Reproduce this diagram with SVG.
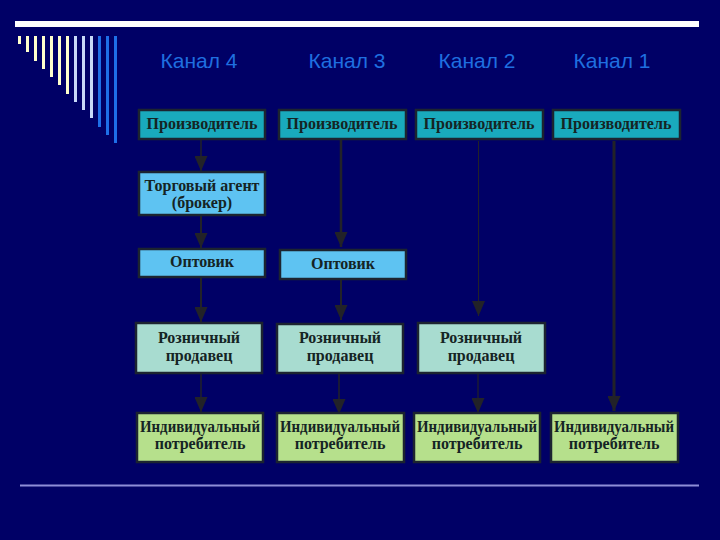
<svg xmlns="http://www.w3.org/2000/svg" width="720" height="540" viewBox="0 0 720 540">
<defs>
<marker id="ah" markerUnits="userSpaceOnUse" markerWidth="15" markerHeight="13" refX="15" refY="6.5" orient="auto" viewBox="0 0 15 13">
<path d="M0,0 L15,6.5 L0,13 z" fill="#222228"/>
</marker>
<style>
.bg{fill:#000066}
.box{stroke:#1c2430;stroke-width:2.5}
.p{fill:#19aabd}
.lb{fill:#5ec3f2}
.r{fill:#a8dcd0}
.g{fill:#b6e08c}
.t{font-family:"Liberation Serif","Times New Roman",serif;font-weight:bold;font-size:16px;fill:#152424;text-anchor:middle}
.ch{font-family:"Liberation Sans",Arial,sans-serif;font-size:21px;fill:#1f6fe0;text-anchor:middle}
.c{stroke:#222228;fill:none}
.cr{fill:#ffffcc}
.lt{fill:#c8d8f8}
.bl{fill:#1e6fe8}
</style>
</defs>
<rect class="bg" x="0" y="0" width="720" height="540"/>
<g id="decor">
<rect x="15" y="21" width="684" height="6" fill="#ffffff"/>
<rect class="cr" x="18" y="36" width="3" height="8"/>
<rect class="cr" x="26" y="36" width="3" height="16"/>
<rect class="cr" x="34" y="36" width="3" height="25"/>
<rect class="cr" x="42" y="36" width="3" height="33"/>
<rect class="cr" x="50" y="36" width="3" height="41"/>
<rect class="cr" x="58" y="36" width="3" height="49"/>
<rect class="cr" x="66" y="36" width="3" height="58"/>
<rect class="lt" x="74" y="36" width="3" height="66"/>
<rect class="lt" x="82" y="36" width="3" height="74"/>
<rect class="lt" x="90" y="36" width="3" height="82"/>
<rect class="bl" x="98" y="36" width="3" height="91"/>
<rect class="bl" x="106" y="36" width="3" height="99"/>
<rect class="bl" x="114" y="36" width="3" height="107"/>
<rect x="20" y="484.5" width="679" height="2" fill="#8e8ed8"/>
</g>
<g id="headers">
<text class="ch" x="199" y="68">Канал 4</text>
<text class="ch" x="347" y="68">Канал 3</text>
<text class="ch" x="477" y="68">Канал 2</text>
<text class="ch" x="612" y="68">Канал 1</text>
</g>
<g id="connectors">
<line class="c" x1="201" y1="140" x2="201" y2="171" stroke-width="1.5" marker-end="url(#ah)"/>
<line class="c" x1="201" y1="216" x2="201" y2="248" stroke-width="2" marker-end="url(#ah)"/>
<line class="c" x1="201" y1="278" x2="201" y2="322" stroke-width="2" marker-end="url(#ah)"/>
<line class="c" x1="201" y1="374" x2="201" y2="412" stroke-width="1.5" marker-end="url(#ah)"/>
<line class="c" x1="341" y1="140" x2="341" y2="247" stroke-width="2.5" marker-end="url(#ah)"/>
<line class="c" x1="341" y1="280" x2="341" y2="320" stroke-width="2" marker-end="url(#ah)"/>
<line class="c" x1="339" y1="374" x2="339" y2="414" stroke-width="1.5" marker-end="url(#ah)"/>
<line class="c" x1="478.5" y1="141" x2="478.5" y2="316" stroke-width="1" marker-end="url(#ah)"/>
<line class="c" x1="478" y1="374" x2="478" y2="413" stroke-width="1.2" marker-end="url(#ah)"/>
<line class="c" x1="614" y1="141" x2="614" y2="411" stroke-width="3" marker-end="url(#ah)"/>
</g>
<g id="n4-producer"><rect class="box p" x="139" y="110" width="126" height="29"/><text class="t" x="202" y="129">Производитель</text></g>
<g id="n3-producer"><rect class="box p" x="279" y="110" width="127" height="29"/><text class="t" x="342" y="129">Производитель</text></g>
<g id="n2-producer"><rect class="box p" x="416" y="110" width="127" height="29"/><text class="t" x="479" y="129">Производитель</text></g>
<g id="n1-producer"><rect class="box p" x="553" y="110" width="127" height="29"/><text class="t" x="616" y="129">Производитель</text></g>
<g id="n4-agent"><rect class="box lb" x="139" y="172" width="126" height="43"/><text class="t" x="202" y="191">Торговый агент</text><text class="t" x="202" y="208">(брокер)</text></g>
<g id="n4-wholesaler"><rect class="box lb" x="139" y="249" width="126" height="28"/><text class="t" x="202" y="267">Оптовик</text></g>
<g id="n3-wholesaler"><rect class="box lb" x="280" y="250" width="126" height="29"/><text class="t" x="343" y="269">Оптовик</text></g>
<g id="n4-retailer"><rect class="box r" x="136" y="323" width="126" height="50"/><text class="t" x="199" y="343">Розничный</text><text class="t" x="199" y="361">продавец</text></g>
<g id="n3-retailer"><rect class="box r" x="277" y="324" width="126" height="49"/><text class="t" x="340" y="343">Розничный</text><text class="t" x="340" y="361">продавец</text></g>
<g id="n2-retailer"><rect class="box r" x="418" y="323" width="127" height="50"/><text class="t" x="481" y="343">Розничный</text><text class="t" x="481" y="361">продавец</text></g>
<g id="n4-consumer"><rect class="box g" x="137" y="413" width="126" height="49"/><text class="t" x="200" y="432" textLength="120" lengthAdjust="spacingAndGlyphs">Индивидуальный</text><text class="t" x="200" y="449">потребитель</text></g>
<g id="n3-consumer"><rect class="box g" x="277" y="413" width="127" height="49"/><text class="t" x="340" y="432" textLength="120" lengthAdjust="spacingAndGlyphs">Индивидуальный</text><text class="t" x="340" y="449">потребитель</text></g>
<g id="n2-consumer"><rect class="box g" x="414" y="413" width="126" height="49"/><text class="t" x="477" y="432" textLength="120" lengthAdjust="spacingAndGlyphs">Индивидуальный</text><text class="t" x="477" y="449">потребитель</text></g>
<g id="n1-consumer"><rect class="box g" x="551" y="413" width="127" height="49"/><text class="t" x="614" y="432" textLength="120" lengthAdjust="spacingAndGlyphs">Индивидуальный</text><text class="t" x="614" y="449">потребитель</text></g>
</svg>
